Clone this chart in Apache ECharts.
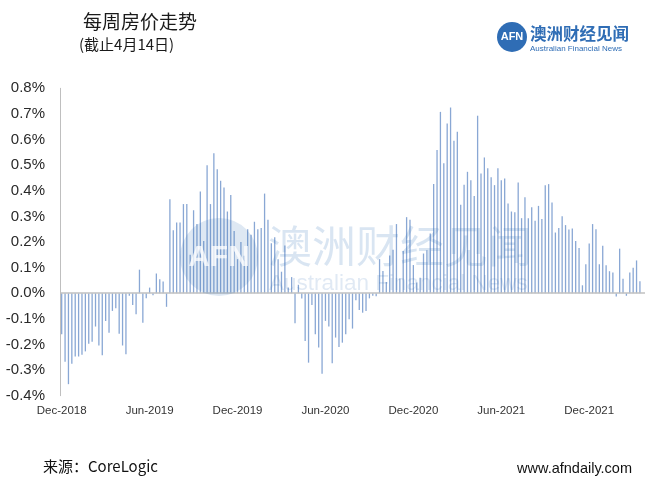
<!DOCTYPE html>
<html>
<head>
<meta charset="utf-8">
<script src="https://cdn.jsdelivr.net/npm/echarts@6/dist/echarts.min.js"></script>
<style>
html,body{margin:0;padding:0;background:#fff;}
#chart{width:660px;height:493px;}
</style>
</head>
<body>
<div id="chart"></div>
<script>
// Weekly home value change (%), Dec-2018 to 14 Apr 2022
const weeklyChange = [
 -0.160,-0.267,-0.355,-0.275,-0.247,-0.247,-0.240,-0.227,-0.197,-0.189,
 -0.130,-0.204,-0.242,-0.108,-0.154,-0.069,-0.059,-0.158,-0.204,-0.238,
 -0.010,-0.046,-0.082,0.092,-0.115,-0.020,0.022,-0.008,0.077,0.055,
 0.046,-0.053,0.367,0.246,0.276,0.276,0.348,0.348,0.150,0.324,
 0.270,0.397,0.204,0.500,0.348,0.546,0.484,0.439,0.413,0.319,
 0.383,0.243,0.133,0.200,0.146,0.250,0.228,0.279,0.250,0.255,
 0.389,0.287,0.195,0.219,0.133,0.084,0.186,0.022,0.063,-0.117,
 0.033,-0.021,-0.186,-0.271,-0.046,-0.160,-0.212,-0.314,-0.108,-0.130,
 -0.273,-0.173,-0.210,-0.193,-0.160,-0.102,-0.138,-0.027,-0.065,-0.076,
 -0.069,-0.020,-0.010,-0.012,0.133,0.087,0.044,0.147,0.170,0.270,
 0.058,0.165,0.297,0.287,0.110,0.042,0.060,0.155,0.168,0.233,
 0.426,0.559,0.708,0.507,0.663,0.725,0.595,0.630,0.345,0.423,
 0.474,0.441,0.380,0.693,0.467,0.530,0.488,0.453,0.422,0.488,
 0.441,0.448,0.350,0.319,0.316,0.432,0.293,0.375,0.293,0.336,
 0.283,0.341,0.290,0.422,0.426,0.354,0.237,0.255,0.301,0.266,
 0.249,0.253,0.204,0.177,0.031,0.113,0.194,0.270,0.250,0.113,
 0.185,0.109,0.086,0.081,-0.013,0.174,0.057,-0.010,0.081,0.099,
 0.128,0.047
];
const tickLabels = ['Dec-2018','Jun-2019','Dec-2019','Jun-2020','Dec-2020','Jun-2021','Dec-2021'];
const tickEvery = 26; // weeks between labels
// one category per week, plus one trailing empty slot
const categories = weeklyChange.map((_, i) => 'W' + (i + 1)).concat(['']);

const chart = echarts.init(document.getElementById('chart'), null, {renderer: 'canvas'});
const blue = '#2f6db5';
chart.setOption({
  animation: false,
  backgroundColor: '#fff',
  grid: {left: 60, right: 15, top: 88.3, bottom: 97.3, outerBoundsMode: 'none'},
  xAxis: {
    type: 'category',
    data: categories,
    boundaryGap: true,
    axisLine: {show: false},
    axisTick: {show: false},
    axisLabel: {
      interval: function (idx) { return idx % tickEvery === 0 && idx / tickEvery < tickLabels.length; },
      formatter: function (v, idx) { return idx % tickEvery === 0 ? (tickLabels[idx / tickEvery] || '') : ''; },
      fontFamily: 'Liberation Sans, Arial, sans-serif',
      fontSize: 11.5,
      color: '#333',
      margin: 9
    }
  },
  yAxis: {
    type: 'value',
    min: -0.4, max: 0.8, interval: 0.1,
    splitLine: {show: false},
    axisTick: {show: false},
    axisLine: {show: true, lineStyle: {color: '#bfbfbf', width: 1}},
    axisLabel: {
      formatter: function (v) { if (Math.abs(v) < 1e-9) v = 0; return v.toFixed(1) + '%'; },
      fontFamily: 'Liberation Sans, Arial, sans-serif',
      fontSize: 15,
      color: '#2a2a2a',
      margin: 15
    }
  },
  series: [{
    type: 'bar',
    data: weeklyChange,
    barWidth: 1.3,
    itemStyle: {color: '#89a7d4'},
    markLine: {
      silent: true,
      symbol: 'none',
      label: {show: false},
      lineStyle: {color: '#c0c0c0', width: 1.6, type: 'solid'},
      data: [{yAxis: 0}]
    }
  }],
  graphic: [
    {type: 'text', left: 83, top: 12, z: 10,
     style: {text: '每周房价走势', font: '19px "Noto Sans CJK SC", sans-serif', fill: '#1a1a1a'}},
    {type: 'text', left: 79, top: 37, z: 10,
     style: {text: '(截止4月14日)', font: '15px "Noto Sans CJK SC", sans-serif', fill: '#1a1a1a'}},
    {type: 'circle', shape: {cx: 512, cy: 37, r: 15}, z: 10, style: {fill: blue}},
    {type: 'text', x: 512, y: 37, z: 11,
     style: {text: 'AFN', font: 'bold 11px "Liberation Sans", Arial, sans-serif', fill: '#fff', align: 'center', verticalAlign: 'middle'}},
    {type: 'text', left: 530, top: 25, z: 10,
     style: {text: '澳洲财经见闻', font: 'bold 16.5px "Noto Sans CJK SC", sans-serif', fill: blue}},
    {type: 'text', left: 530, top: 45, z: 10,
     style: {text: 'Australian Financial News', font: '8px "Liberation Sans", Arial, sans-serif', fill: blue}},
    // watermark
    {type: 'circle', shape: {cx: 219, cy: 257, r: 39}, z: 20, style: {fill: 'rgba(47,109,181,0.16)'}},
    {type: 'text', x: 219, y: 258, z: 21,
     style: {text: 'AFN', font: 'bold 30px "Liberation Sans", Arial, sans-serif', fill: 'rgba(255,255,255,0.75)', align: 'center', verticalAlign: 'middle'}},
    {type: 'text', x: 268, y: 246, z: 20,
     style: {text: '澳洲财经见闻', font: '44px "Noto Sans CJK SC", sans-serif', fill: 'rgba(47,109,181,0.18)', verticalAlign: 'middle'}},
    {type: 'text', x: 269, y: 284, z: 20,
     style: {text: 'Australian Financial News', font: '22.5px "Liberation Sans", Arial, sans-serif', fill: 'rgba(47,109,181,0.15)', verticalAlign: 'middle'}},
    // footer
    {type: 'text', left: 43, top: 459, z: 10,
     style: {text: '来源：CoreLogic', font: '15px "Noto Sans CJK SC", sans-serif', fill: '#111'}},
    {type: 'text', right: 28, top: 461, z: 10,
     style: {text: 'www.afndaily.com', font: '14.5px "Liberation Sans", Arial, sans-serif', fill: '#111'}}
  ]
});
</script>
</body>
</html>
